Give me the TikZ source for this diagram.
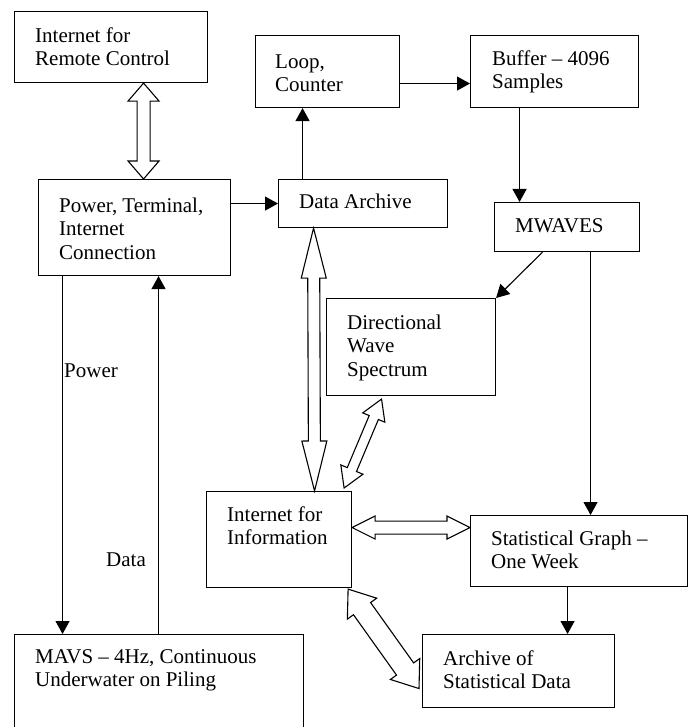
\documentclass[tikz,border=0pt]{standalone}
\usepackage{fontspec}
\setmainfont{Liberation Serif}
\usetikzlibrary{arrows.meta,calc}
\newcommand\firstln{\rule{0pt}{16pt}}
\begin{document}
\begin{tikzpicture}[x=1pt,y=-1pt,
  box/.style={draw, line width=1.1pt, inner sep=0pt, anchor=north west},
  txt/.style={anchor=north west, inner sep=0pt, align=left, font=\fontsize{21}{23.7}\selectfont},
  lbl/.style={anchor=base west, inner sep=0pt, font=\fontsize{21}{23.7}\selectfont},
  arr/.style={line width=1.1pt, -{Triangle[length=13pt,width=14pt]}},
  hollow/.style n args={3}{line width=1.1pt, fill=white, line join=miter, to path={
    (\tikztostart) -- ($($(\tikztostart)!#3!(\tikztotarget)$)!#2!90:(\tikztotarget)$)
    -- ($($(\tikztostart)!#3!(\tikztotarget)$)!#1!90:(\tikztotarget)$)
    -- ($($(\tikztotarget)!#3!(\tikztostart)$)!#1!-90:(\tikztostart)$)
    -- ($($(\tikztotarget)!#3!(\tikztostart)$)!#2!-90:(\tikztostart)$)
    -- (\tikztotarget)
    -- ($($(\tikztotarget)!#3!(\tikztostart)$)!#2!90:(\tikztostart)$)
    -- ($($(\tikztotarget)!#3!(\tikztostart)$)!#1!90:(\tikztostart)$)
    -- ($($(\tikztostart)!#3!(\tikztotarget)$)!#1!-90:(\tikztotarget)$)
    -- ($($(\tikztostart)!#3!(\tikztotarget)$)!#2!-90:(\tikztotarget)$)
    -- cycle}}
]
\clip (0,0) rectangle (694,727);
\fill[white] (0,0) rectangle (694,727);

% boxes
\node[box, minimum width=193pt, minimum height=71pt] (rc) at (14,11) {};
\node[box, minimum width=144pt, minimum height=72pt] (loop) at (255,35) {};
\node[box, minimum width=168pt, minimum height=72pt] (buf) at (470,35) {};
\node[box, minimum width=192pt, minimum height=96pt] (pw) at (38,179) {};
\node[box, minimum width=169pt, minimum height=48pt] (da) at (278,179) {};
\node[box, minimum width=145pt, minimum height=49pt] (mw) at (494,202) {};
\node[box, minimum width=169pt, minimum height=97pt] (dir) at (326,298) {};
\node[box, minimum width=145pt, minimum height=96pt] (inf) at (206,491) {};
\node[box, minimum width=217pt, minimum height=71pt] (sg) at (470,515) {};
\node[box, minimum width=192pt, minimum height=73pt] (asd) at (422,634) {};
\node[box, minimum width=289pt, minimum height=130pt] (mavs) at (14,634) {};

% texts
\node[txt] (rct) at ($(rc.north west)+(21,15)$) {\firstln Internet for\\Remote Control};
\node[txt] (loopt) at ($(loop.north west)+(20,17)$) {\firstln Loop,\\Counter};
\node[txt] (buft) at ($(buf.north west)+(22,14)$) {\firstln Buffer – 4096\\Samples};
\node[txt] (pwt) at ($(pw.north west)+(21,17)$) {\firstln Power, Terminal,\\Internet\\Connection};
\node[txt] (dat) at ($(da.north west)+(21,13)$) {\firstln Data Archive};
\node[txt] (mwt) at ($(mw.north west)+(21,14)$) {\firstln MWAVES};
\node[txt] (dirt) at ($(dir.north west)+(21,15)$) {\firstln Directional\\Wave\\Spectrum};
\node[txt] (inft) at ($(inf.north west)+(21,14)$) {\firstln Internet for\\Information};
\node[txt] (sgt) at ($(sg.north west)+(21,14)$) {\firstln Statistical Graph –\\One Week};
\node[txt] (asdt) at ($(asd.north west)+(21,15)$) {\firstln Archive of\\Statistical Data};
\node[txt] (mavst) at ($(mavs.north west)+(21,13)$) {\firstln MAVS – 4Hz, Continuous\\Underwater on Piling};

% connector coordinates
\coordinate (cda) at ([xshift=-60.5]da.north);
\coordinate (clp) at ([yshift=-12]loop.east);
\coordinate (cbf) at ([xshift=-35]buf.south);
\coordinate (cmw1) at ([xshift=-24.5]mw.south);
\coordinate (cmw2) at ([xshift=23.5]mw.south);
\coordinate (cpw1) at ([xshift=-72]pw.south);
\coordinate (cpw2) at ([xshift=24]pw.south);
\coordinate (csg) at ([xshift=-11.5]sg.south);

% solid arrows
\draw[arr] (pw.east |- da.west) -- (da.west);
\draw[arr] (cda) -- (cda |- loop.south);
\draw[arr] (clp) -- (clp -| buf.west);
\draw[arr] (cbf) -- (cbf |- mw.north);
\draw[arr] (cmw1) -- (dir.north east);
\draw[arr] (cmw2) -- (cmw2 |- sg.north);
\draw[arr] (cpw1) -- (cpw1 |- mavs.north);
\draw[arr] (cpw2 |- mavs.north) -- (cpw2);
\draw[arr] (csg) -- (csg |- asd.north);

\node[lbl] (lpower) at (64,377) {Power};
\node[lbl] (ldata) at (106,566) {Data};

% hollow double arrows
\coordinate (h1a) at ([xshift=32.5]rc.south);
\coordinate (h1b) at ([xshift=9]pw.north);
\coordinate (h2a) at ([xshift=-49.5]da.south);
\coordinate (h2b) at ([xshift=35.5]inf.north);
\coordinate (h3a) at ([xshift=-29.5,yshift=-3]dir.south);
\coordinate (h3b) at ([xshift=-8,yshift=3]inf.north east);
\coordinate (h4a) at ([yshift=12]inf.east);
\coordinate (h4b) at (h4a -| sg.west);
\coordinate (h5a) at ([xshift=-4,yshift=-1]inf.south east);
\coordinate (h5b) at ([xshift=-3,yshift=-17.5]asd.west);

\draw[hollow={6.5pt}{15.5pt}{18pt}] (h1a) to (h1b);
\draw[hollow={6pt}{12.5pt}{50pt}] (h2a) to (h2b);
\draw[hollow={5pt}{12pt}{20pt}] (h3a) to (h3b);
\draw[hollow={6.5pt}{11.5pt}{23pt}] (h4a) to (h4b);
\draw[hollow={10.5pt}{18pt}{24pt}] (h5a) to (h5b);
\end{tikzpicture}
\end{document}
